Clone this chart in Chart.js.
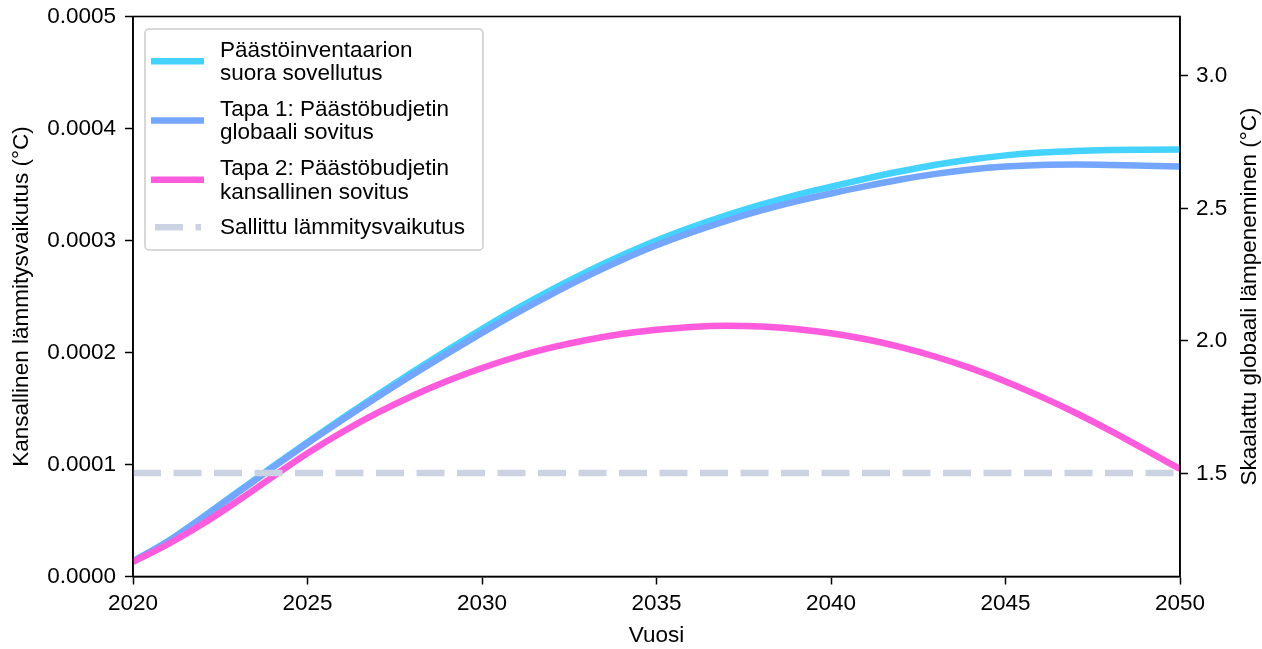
<!DOCTYPE html>
<html lang="fi">
<head>
<meta charset="utf-8">
<script src="https://cdn.jsdelivr.net/npm/chart.js@4/dist/chart.umd.min.js"></script>
<style>
  html, body { margin: 0; padding: 0; background: #ffffff; }
  #wrap { width: 1262px; height: 649px; position: relative; }
</style>
</head>
<body>
<div id="wrap"><canvas id="c" width="1262" height="649"></canvas></div>
<script>
// Vuodet 2020–2050
const years = [2020, 2021, 2022, 2023, 2024, 2025, 2026, 2027, 2028, 2029, 2030,
               2031, 2032, 2033, 2034, 2035, 2036, 2037, 2038, 2039, 2040,
               2041, 2042, 2043, 2044, 2045, 2046, 2047, 2048, 2049, 2050];

// Kansallinen lämmitysvaikutus (°C)
const inventoryDirect = [0.0000135, 0.0000315, 0.0000530, 0.0000755, 0.0000980, 0.0001200,
  0.0001413, 0.0001621, 0.0001823, 0.0002019, 0.0002210, 0.0002392, 0.0002562, 0.0002720,
  0.0002866, 0.0003000, 0.0003118, 0.0003224, 0.0003320, 0.0003406, 0.0003480, 0.0003552,
  0.0003618, 0.0003676, 0.0003724, 0.0003760, 0.0003785, 0.0003800, 0.0003808, 0.0003811,
  0.0003812];
const method1Global = [0.0000135, 0.0000313, 0.0000526, 0.0000749, 0.0000972, 0.0001190,
  0.0001399, 0.0001603, 0.0001800, 0.0001990, 0.0002175, 0.0002354, 0.0002522, 0.0002680,
  0.0002826, 0.0002958, 0.0003073, 0.0003176, 0.0003268, 0.0003350, 0.0003420, 0.0003486,
  0.0003545, 0.0003595, 0.0003634, 0.0003660, 0.0003674, 0.0003678, 0.0003675, 0.0003668,
  0.0003660];
const method2National = [0.0000130, 0.0000288, 0.0000470, 0.0000675, 0.0000890, 0.0001100,
  0.0001290, 0.0001460, 0.0001612, 0.0001745, 0.0001862, 0.0001962, 0.0002045, 0.0002112,
  0.0002165, 0.0002203, 0.0002228, 0.0002238, 0.0002232, 0.0002210, 0.0002172, 0.0002118,
  0.0002048, 0.0001962, 0.0001860, 0.0001742, 0.0001608, 0.0001462, 0.0001302, 0.0001132,
  0.0000960];
const allowedImpact = 0.0000925;

// Akselien tikit
const xTicks = [2020, 2025, 2030, 2035, 2040, 2045, 2050];
const leftTicks = [0.0000, 0.0001, 0.0002, 0.0003, 0.0004, 0.0005];
const rightTicks = [1.5, 2.0, 2.5, 3.0];
const rightRange = [1.1106, 3.224];

const seriesLabels = [
  ['Päästöinventaarion', 'suora sovellutus'],
  ['Tapa 1: Päästöbudjetin', 'globaali sovitus'],
  ['Tapa 2: Päästöbudjetin', 'kansallinen sovitus'],
  ['Sallittu lämmitysvaikutus']
];
const rightTitle = 'Skaalattu globaali lämpeneminen (°C)';

const FONT = "'Liberation Sans', Arial, Helvetica, sans-serif";
const FS = 22.5;

const toPoints = vals => years.map((y, i) => ({ x: y, y: vals[i] }));

// Kehys piirtoalueen ympärille ja oikean akselin otsikko
const framePlugin = {
  id: 'frame',
  afterDraw(chart) {
    const { ctx, chartArea: a } = chart;
    ctx.save();
    ctx.strokeStyle = '#000';
    ctx.lineWidth = 1.6;
    ctx.strokeRect(a.left, a.top, a.right - a.left, a.bottom - a.top);
    ctx.translate(1250, (a.top + a.bottom) / 2);
    ctx.rotate(-Math.PI / 2);
    ctx.font = FS + 'px ' + FONT;
    ctx.fillStyle = '#000';
    ctx.textAlign = 'center';
    ctx.textBaseline = 'middle';
    ctx.fillText(rightTitle, 0, 0);
    ctx.restore();
  }
};

// Selite piirtoalueen vasempaan yläkulmaan
const boxLegendPlugin = {
  id: 'boxLegend',
  afterDraw(chart) {
    const { ctx, chartArea: a } = chart;
    const ds = chart.data.datasets;
    const x0 = a.left + 12, y0 = a.top + 12.5;
    const w = 338, lineH = 23.3, gap = 12.6, padT = 9, padB = 11;
    let h = padT + padB;
    ds.forEach((d, i) => { h += d.label.length * lineH + (i < ds.length - 1 ? gap : 0); });
    ctx.save();
    ctx.beginPath();
    ctx.roundRect(x0, y0, w, h, 4);
    ctx.fillStyle = 'rgba(255,255,255,0.85)';
    ctx.fill();
    ctx.strokeStyle = '#cccccc';
    ctx.lineWidth = 1.5;
    ctx.stroke();
    let y = y0 + padT;
    ctx.font = FS + 'px ' + FONT;
    ctx.textBaseline = 'middle';
    ctx.textAlign = 'left';
    ds.forEach((d) => {
      const block = d.label.length * lineH;
      const cy = y + block / 2;
      ctx.beginPath();
      ctx.strokeStyle = d.borderColor;
      ctx.lineWidth = d.borderWidth;
      ctx.lineCap = 'butt';
      if (d.borderDash && d.borderDash.length) {
        ctx.setLineDash(d.borderDash);
        ctx.moveTo(x0 + 10, cy);
        ctx.lineTo(x0 + 56, cy);
      } else {
        ctx.setLineDash([]);
        ctx.moveTo(x0 + 6, cy);
        ctx.lineTo(x0 + 59, cy);
      }
      ctx.stroke();
      ctx.setLineDash([]);
      ctx.fillStyle = '#000';
      d.label.forEach((t, k) => {
        ctx.fillText(t, x0 + 75, y + lineH * k + lineH / 2 + 1);
      });
      y += block + gap;
    });
    ctx.restore();
  }
};

const tickFont = { family: FONT, size: FS, lineHeight: 1.2 };
const noPad = s => { s.paddingTop = 0; s.paddingBottom = 0; s.paddingLeft = 0; s.paddingRight = 0; };

new Chart(document.getElementById('c'), {
  type: 'line',
  data: {
    datasets: [
      { label: seriesLabels[0], data: toPoints(inventoryDirect), borderColor: '#44d2ff',
        borderWidth: 6.5, order: 3, yAxisID: 'y' },
      { label: seriesLabels[1], data: toPoints(method1Global), borderColor: '#74a6ff',
        borderWidth: 6.5, order: 2, yAxisID: 'y' },
      { label: seriesLabels[2], data: toPoints(method2National), borderColor: '#ff5cdd',
        borderWidth: 6.5, order: 1, yAxisID: 'y' },
      { label: seriesLabels[3],
        data: [{ x: years[0], y: allowedImpact }, { x: years[years.length - 1], y: allowedImpact }],
        borderColor: '#cbd3e3', borderWidth: 6.5, borderDash: [28, 12.5], order: 0, yAxisID: 'y' }
    ]
  },
  options: {
    responsive: false,
    animation: false,
    events: [],
    layout: { padding: { top: 16.5, right: 0, bottom: 0, left: 0 } },
    elements: {
      point: { radius: 0 },
      line: { cubicInterpolationMode: 'monotone', borderCapStyle: 'butt', fill: false }
    },
    plugins: { legend: { display: false }, tooltip: { enabled: false } },
    scales: {
      x: {
        type: 'linear', min: 2020, max: 2050,
        afterFit: s => { s.height = 72.5; noPad(s); },
        afterBuildTicks: s => { s.ticks = xTicks.map(v => ({ value: v })); },
        grid: { drawOnChartArea: false, drawTicks: true, tickLength: 8, tickColor: '#000', tickWidth: 1.5 },
        border: { display: true, color: '#000', width: 1.6 },
        ticks: { color: '#000', font: tickFont, padding: 6, maxRotation: 0, callback: v => String(v) },
        title: { display: true, text: 'Vuosi', color: '#000', font: tickFont, padding: { top: 0, bottom: 0 } }
      },
      y: {
        position: 'left', min: 0, max: 0.0005,
        afterFit: s => { s.width = 133; noPad(s); },
        afterBuildTicks: s => { s.ticks = leftTicks.map(v => ({ value: v })); },
        grid: { drawOnChartArea: false, drawTicks: true, tickLength: 8, tickColor: '#000', tickWidth: 1.5 },
        border: { display: true, color: '#000', width: 1.6 },
        ticks: { color: '#000', font: tickFont, padding: 9, callback: v => Number(v).toFixed(4) },
        title: { display: true, text: 'Kansallinen lämmitysvaikutus (°C)', color: '#000', font: tickFont,
                 padding: { top: 8.5, bottom: 0 } }
      },
      y2: {
        position: 'right', min: rightRange[0], max: rightRange[1],
        afterFit: s => { s.width = 82; noPad(s); },
        afterBuildTicks: s => { s.ticks = rightTicks.map(v => ({ value: v })); },
        grid: { drawOnChartArea: false, drawTicks: true, tickLength: 8, tickColor: '#000', tickWidth: 1.5 },
        border: { display: true, color: '#000', width: 1.6 },
        ticks: { color: '#000', font: tickFont, padding: 8, callback: v => Number(v).toFixed(1) },
        title: { display: false }
      }
    }
  },
  plugins: [framePlugin, boxLegendPlugin]
});
</script>
</body>
</html>
